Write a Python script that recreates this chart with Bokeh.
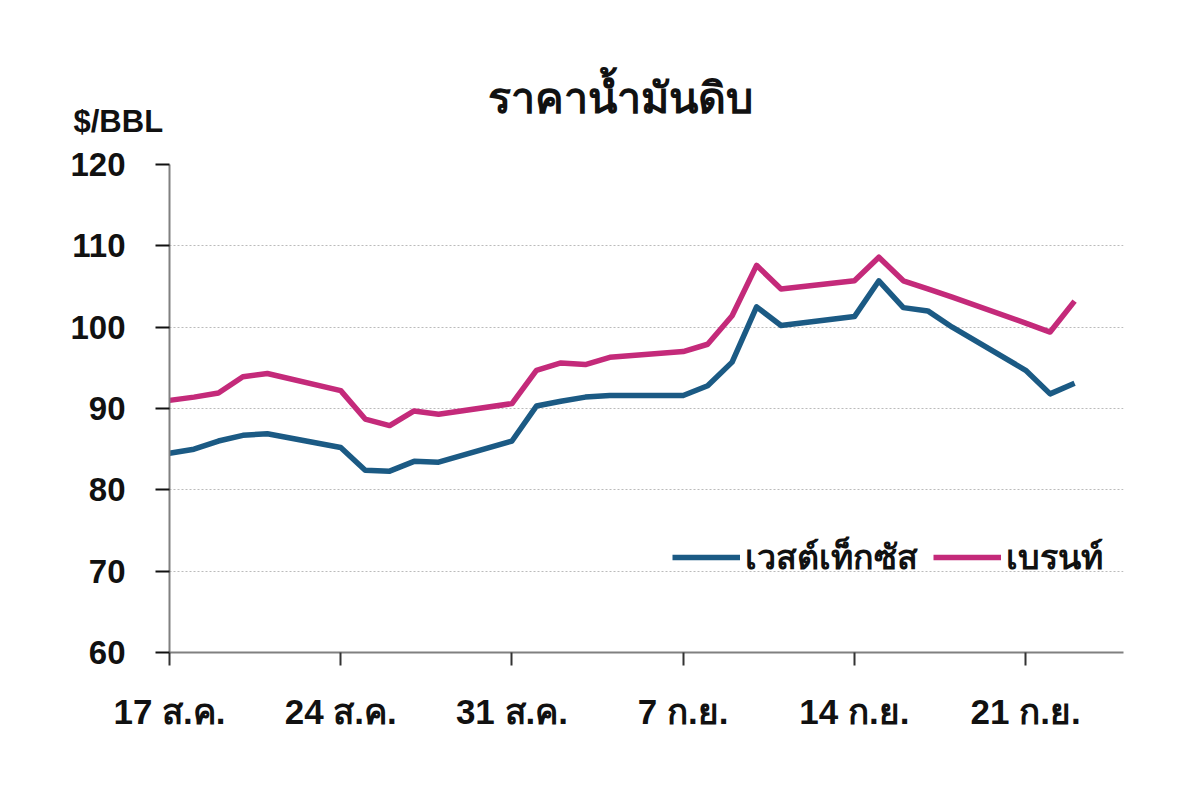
import pandas as pd
from bokeh.embed import file_html
from bokeh.models import ColumnDataSource, FixedTicker, Legend, LegendItem, Range1d, Title
from bokeh.plotting import figure
from bokeh.resources import INLINE

# trading days, 17 Aug - 23 Sep
dates = pd.bdate_range("2015-08-17", "2015-09-23")
wti = [84.5, 85.0, 86.0, 86.7, 86.9,
       85.2, 82.4, 82.3, 83.5, 83.4,
       86.0, 90.3, 90.9, 91.4, 91.6,
       91.6, 92.8, 95.7, 102.5, 100.2,
       101.3, 105.7, 102.4, 102.0, 100.0,
       94.7, 91.8, 93.1]
brent = [91.0, 91.4, 91.9, 93.9, 94.3,
         92.2, 88.7, 87.9, 89.7, 89.3,
         90.6, 94.7, 95.6, 95.4, 96.3,
         97.0, 97.9, 101.4, 107.6, 104.7,
         105.7, 108.6, 105.7, 104.7, 103.7,
         100.5, 99.4, 103.2]
tick_days = [0, 7, 14, 21, 28, 35]
tick_labels = ["17 ส.ค.", "24 ส.ค.", "31 ส.ค.", "7 ก.ย.", "14 ก.ย.", "21 ก.ย."]
y_ticks = [60, 70, 80, 90, 100, 110, 120]

FONT = "Liberation Sans"
BLUE = "#1B5A84"
PINK = "#C42A7A"

day = [(d - dates[0]).days for d in dates]
source = ColumnDataSource(dict(day=day, wti=wti, brent=brent))

p = figure(width=1184, height=787, output_backend="svg", toolbar_location=None,
           x_range=Range1d(0, 39), y_range=Range1d(60, 120),
           min_border_left=169, min_border_right=61, min_border_top=164, min_border_bottom=135)
p.outline_line_color = None
p.xgrid.grid_line_color = None
p.ygrid.grid_line_color = "#BBBBBB"
p.ygrid.grid_line_dash = "2 2"
p.ygrid.grid_line_width = 1.2

p.xaxis.ticker = FixedTicker(ticks=tick_days)
p.xaxis.major_label_overrides = {d: lab for d, lab in zip(tick_days, tick_labels)}
p.yaxis.ticker = FixedTicker(ticks=y_ticks)
p.xaxis.minor_tick_line_color = None
p.yaxis.minor_tick_line_color = None
p.xaxis.axis_line_color = "#808080"
p.yaxis.axis_line_color = "#808080"
p.xaxis.axis_line_width = 2
p.yaxis.axis_line_width = 2
p.xaxis.major_tick_line_color = "#333333"
p.yaxis.major_tick_line_color = "#111111"
p.xaxis.major_tick_line_width = 2
p.yaxis.major_tick_line_width = 2
p.xaxis.major_tick_out = 13
p.xaxis.major_tick_in = 0
p.yaxis.major_tick_out = 14
p.yaxis.major_tick_in = 0
p.xaxis.major_label_standoff = 26
p.yaxis.major_label_standoff = 30
for ax in (p.xaxis, p.yaxis):
    ax.major_label_text_font = FONT
    ax.major_label_text_font_style = "bold"
    ax.major_label_text_color = "#111111"
p.xaxis.major_label_text_font_size = "35px"
p.yaxis.major_label_text_font_size = "33px"

r_wti = p.line("day", "wti", source=source, line_color=BLUE, line_width=5.5, line_join="round")
r_brent = p.line("day", "brent", source=source, line_color=PINK, line_width=5.5, line_join="round")

legend = Legend(items=[LegendItem(label="เวสต์เท็กซัส", renderers=[r_wti]),
                       LegendItem(label="เบรนท์", renderers=[r_brent])],
                orientation="horizontal", location=(503, 68),
                padding=0, margin=0, spacing=15,
                glyph_width=68, glyph_height=34, label_standoff=5, label_height=34,
                label_text_font=FONT, label_text_font_style="bold", label_text_font_size="34px",
                label_text_color="#111111",
                background_fill_alpha=0, border_line_color=None)
p.add_layout(legend, "center")

p.title.text = "ราคาน้ำมันดิบ"
p.title.align = "left"
p.title.offset = 318
p.title.standoff = -92
p.title.text_font = FONT
p.title.text_font_style = "bold"
p.title.text_font_size = "43px"
p.title.text_color = "#111111"
p.add_layout(Title(text="$/BBL", align="left", offset=-96, text_font=FONT, text_font_style="bold",
                   text_font_size="31px", text_color="#111111", standoff=52), "above")

open("out.html", "w").write(file_html(p, INLINE))
